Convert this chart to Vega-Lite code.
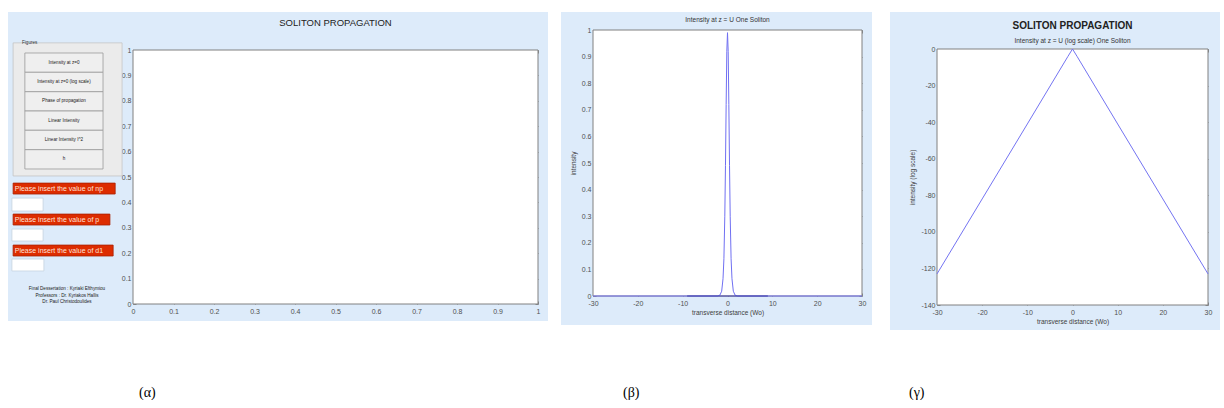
{
  "$schema": "https://vega.github.io/schema/vega-lite/v6.json",
  "padding": {"left": 8, "top": 12, "right": 0, "bottom": 0},
  "background": "white",
  "config": {
    "font": "Liberation Sans",
    "view": {"stroke": null},
    "axis": {"grid": false, "domain": false, "tickSize": -3, "tickColor": "#707070", "tickWidth": 0.8, "labelFontSize": 7, "labelColor": "#505050", "labelPadding": 5, "labelFlush": false, "labelOverlap": false, "titleFontSize": 6.5, "titleFontWeight": "normal", "titleColor": "#404040", "zindex": 1},
    "title": {"fontWeight": "normal", "color": "#222222"}
  },
  "datasets": {
    "frame": [{"panel": "plot"}],
    "beta": [
      {"x": -30, "intensity": 0},
      {"x": -2.2, "intensity": 0},
      {"x": -1.7, "intensity": 0.003},
      {"x": -1.3, "intensity": 0.018},
      {"x": -1.0, "intensity": 0.065},
      {"x": -0.8, "intensity": 0.14},
      {"x": -0.6, "intensity": 0.3},
      {"x": -0.45, "intensity": 0.49},
      {"x": -0.3, "intensity": 0.72},
      {"x": -0.15, "intensity": 0.92},
      {"x": 0, "intensity": 0.99},
      {"x": 0.15, "intensity": 0.92},
      {"x": 0.3, "intensity": 0.72},
      {"x": 0.45, "intensity": 0.49},
      {"x": 0.6, "intensity": 0.3},
      {"x": 0.8, "intensity": 0.14},
      {"x": 1.0, "intensity": 0.065},
      {"x": 1.3, "intensity": 0.018},
      {"x": 1.7, "intensity": 0.003},
      {"x": 2.2, "intensity": 0},
      {"x": 30, "intensity": 0}
    ],
    "beta_core": [
      {"x": -9, "intensity": 0},
      {"x": 9, "intensity": 0}
    ],
    "gamma": [
      {"x": -30, "db": -123},
      {"x": -20, "db": -82},
      {"x": -10, "db": -41},
      {"x": -1, "db": -4},
      {"x": 0, "db": 0},
      {"x": 1, "db": -4},
      {"x": 10, "db": -41},
      {"x": 20, "db": -82},
      {"x": 30, "db": -123}
    ],
    "widgets": [
      {"kind": "group", "x0": -0.296, "x1": -0.027, "y0": 0.504, "y1": 1.028},
      {"kind": "button", "x0": -0.267, "x1": -0.074, "y0": 0.9122, "y1": 0.9882},
      {"kind": "button", "x0": -0.267, "x1": -0.074, "y0": 0.8358, "y1": 0.9122},
      {"kind": "button", "x0": -0.267, "x1": -0.074, "y0": 0.7598, "y1": 0.8358},
      {"kind": "button", "x0": -0.267, "x1": -0.074, "y0": 0.6839, "y1": 0.7598},
      {"kind": "button", "x0": -0.267, "x1": -0.074, "y0": 0.6075, "y1": 0.6839},
      {"kind": "button", "x0": -0.267, "x1": -0.074, "y0": 0.5315, "y1": 0.6075},
      {"kind": "prompt", "x0": -0.296, "x1": -0.044, "y0": 0.433, "y1": 0.476},
      {"kind": "box", "x0": -0.299, "x1": -0.222, "y0": 0.366, "y1": 0.417},
      {"kind": "prompt", "x0": -0.296, "x1": -0.057, "y0": 0.311, "y1": 0.354},
      {"kind": "box", "x0": -0.299, "x1": -0.222, "y0": 0.248, "y1": 0.295},
      {"kind": "prompt", "x0": -0.296, "x1": -0.049, "y0": 0.189, "y1": 0.232},
      {"kind": "box", "x0": -0.299, "x1": -0.220, "y0": 0.130, "y1": 0.177}
    ],
    "texts_left": [
      {"kind": "figures", "text": "Figures", "x": -0.274, "y": 1.028},
      {"kind": "prompt", "text": "Please insert the value of np", "x": -0.292, "y": 0.4545},
      {"kind": "prompt", "text": "Please insert the value of p", "x": -0.292, "y": 0.3325},
      {"kind": "prompt", "text": "Please insert the value of d1", "x": -0.292, "y": 0.2105}
    ],
    "texts_center": [
      {"kind": "button", "text": "Intensity at z=0", "x": -0.1705, "y": 0.9502},
      {"kind": "button", "text": "Intensity at z=0 (log scale)", "x": -0.1705, "y": 0.874},
      {"kind": "button", "text": "Phase of propagation", "x": -0.1705, "y": 0.7978},
      {"kind": "button", "text": "Linear Intensity", "x": -0.1705, "y": 0.7219},
      {"kind": "button", "text": "Linear Intensity I^2", "x": -0.1705, "y": 0.6457},
      {"kind": "button", "text": "h", "x": -0.1705, "y": 0.5695},
      {"kind": "credit", "text": "Final Dessertation :  Kyriaki Efthymiou", "x": -0.163, "y": 0.059},
      {"kind": "credit", "text": "Professors :  Dr. Kyriakos Hallis", "x": -0.163, "y": 0.031},
      {"kind": "credit", "text": "Dr. Paul Christodoulides", "x": -0.163, "y": 0.008}
    ]
  },
  "hconcat": [
    {
      "spacing": 13,
      "hconcat": [
        {
          "title": {"text": "(α)", "orient": "bottom", "anchor": "start", "frame": "group", "dx": 131, "offset": 65, "font": "Liberation Serif", "fontSize": 14, "fontWeight": "normal", "color": "#000000"},
          "vconcat": [
            {
              "width": 540,
              "height": 309,
              "view": {"fill": "#ddebfa", "stroke": null},
              "title": {"text": "SOLITON PROPAGATION", "fontSize": 9.5, "anchor": "middle", "frame": "group", "dx": 57.5, "offset": -15},
              "resolve": {"axis": {"x": "independent", "y": "independent"}},
              "layer": [
                {
                  "data": {"name": "frame"},
                  "mark": {"type": "rect", "fill": "white", "stroke": "#808080", "strokeWidth": 1},
                  "encoding": {
                    "x": {"datum": 0, "type": "quantitative", "scale": {"domain": [0, 1], "range": [125, 530], "nice": false, "zero": false},
                      "axis": {"orient": "bottom", "offset": -17, "labelPadding": 6, "values": [0, 0.1, 0.2, 0.3, 0.4, 0.5, 0.6, 0.7, 0.8, 0.9, 1], "labelExpr": "'' + datum.value", "title": null}},
                    "x2": {"datum": 1},
                    "y": {"datum": 0, "type": "quantitative", "scale": {"domain": [0, 1], "range": [292, 38], "nice": false, "zero": false},
                      "axis": {"orient": "left", "offset": -125, "values": [0, 0.1, 0.2, 0.3, 0.4, 0.5, 0.6, 0.7, 0.8, 0.9, 1], "labelExpr": "'' + datum.value", "title": null}},
                    "y2": {"datum": 1}
                  }
                },
                {
                  "data": {"name": "widgets"},
                  "mark": {"type": "rect", "strokeWidth": 0.8},
                  "encoding": {
                    "x": {"field": "x0", "type": "quantitative", "axis": null},
                    "x2": {"field": "x1"},
                    "y": {"field": "y0", "type": "quantitative", "axis": null},
                    "y2": {"field": "y1"},
                    "fill": {"field": "kind", "type": "nominal", "legend": null, "scale": {"domain": ["group", "button", "prompt", "box"], "range": ["#ebebeb", "#efefef", "#dd2c00", "#ffffff"]}},
                    "stroke": {"field": "kind", "type": "nominal", "legend": null, "scale": {"domain": ["group", "button", "prompt", "box"], "range": ["#c4c4c4", "#9a9a9a", "#a82000", "#c6d3e0"]}}
                  }
                },
                {
                  "data": {"name": "texts_left"},
                  "mark": {"type": "text", "align": "left", "baseline": "middle"},
                  "encoding": {
                    "x": {"field": "x", "type": "quantitative", "axis": null},
                    "y": {"field": "y", "type": "quantitative", "axis": null},
                    "text": {"field": "text"},
                    "size": {"field": "kind", "type": "nominal", "legend": null, "scale": {"domain": ["figures", "prompt"], "range": [4.6, 7]}},
                    "color": {"field": "kind", "type": "nominal", "legend": null, "scale": {"domain": ["figures", "prompt"], "range": ["#333333", "#ffe2d8"]}}
                  }
                },
                {
                  "data": {"name": "texts_center"},
                  "mark": {"type": "text", "align": "center", "baseline": "middle", "fontSize": 4.6, "color": "#222222"},
                  "encoding": {
                    "x": {"field": "x", "type": "quantitative", "axis": null},
                    "y": {"field": "y", "type": "quantitative", "axis": null},
                    "text": {"field": "text"}
                  }
                },
                {
                  "data": {"name": "frame"},
                  "mark": {"type": "rect", "opacity": 0},
                  "encoding": {
                    "x": {"datum": 0, "type": "quantitative",
                      "axis": {"orient": "top", "offset": -38, "values": [0, 0.1, 0.2, 0.3, 0.4, 0.5, 0.6, 0.7, 0.8, 0.9, 1], "labels": false, "title": null}},
                    "x2": {"datum": 1},
                    "y": {"datum": 0, "type": "quantitative",
                      "axis": {"orient": "right", "offset": -10, "values": [0, 0.1, 0.2, 0.3, 0.4, 0.5, 0.6, 0.7, 0.8, 0.9, 1], "labels": false, "title": null}},
                    "y2": {"datum": 1}
                  }
                }
              ]
            }
          ]
        },
        {
          "title": {"text": "(β)", "orient": "bottom", "anchor": "start", "frame": "group", "dx": 62, "offset": 61, "font": "Liberation Serif", "fontSize": 14, "fontWeight": "normal", "color": "#000000"},
          "vconcat": [
            {
              "width": 311,
              "height": 313,
              "view": {"fill": "#ddebfa", "stroke": null},
              "title": {"text": "Intensity at z = U One Soliton", "fontSize": 6.5, "color": "#333333", "anchor": "middle", "frame": "group", "dx": 11, "offset": -11},
              "resolve": {"axis": {"x": "independent", "y": "independent"}},
              "layer": [
                {
                  "data": {"name": "frame"},
                  "mark": {"type": "rect", "fill": "white", "stroke": "#808080", "strokeWidth": 1},
                  "encoding": {
                    "x": {"datum": -30, "type": "quantitative", "scale": {"domain": [-30, 30], "range": [32, 301], "nice": false, "zero": false},
                      "axis": {"orient": "bottom", "offset": -29, "labelPadding": 6, "values": [-30, -20, -10, 0, 10, 20, 30], "labelExpr": "'' + datum.value", "title": "transverse distance (Wo)", "titlePadding": 3}},
                    "x2": {"datum": 30},
                    "y": {"datum": 0, "type": "quantitative", "scale": {"domain": [0, 1], "range": [284, 18], "nice": false, "zero": false},
                      "axis": {"orient": "left", "offset": -32, "values": [0, 0.1, 0.2, 0.3, 0.4, 0.5, 0.6, 0.7, 0.8, 0.9, 1], "labelExpr": "'' + datum.value", "title": "intensity", "titlePadding": 5}},
                    "y2": {"datum": 1}
                  }
                },
                {
                  "data": {"name": "beta"},
                  "mark": {"type": "line", "strokeWidth": 1, "color": "#7070f2"},
                  "encoding": {
                    "x": {"field": "x", "type": "quantitative", "axis": null},
                    "y": {"field": "intensity", "type": "quantitative", "axis": null}
                  }
                },
                {
                  "data": {"name": "beta_core"},
                  "mark": {"type": "line", "strokeWidth": 1.2, "color": "#3c3cae"},
                  "encoding": {
                    "x": {"field": "x", "type": "quantitative", "axis": null},
                    "y": {"field": "intensity", "type": "quantitative", "axis": null}
                  }
                },
                {
                  "data": {"name": "frame"},
                  "mark": {"type": "rect", "opacity": 0},
                  "encoding": {
                    "x": {"datum": -30, "type": "quantitative",
                      "axis": {"orient": "top", "offset": -18, "values": [-30, -20, -10, 0, 10, 20, 30], "labels": false, "title": null}},
                    "x2": {"datum": 30},
                    "y": {"datum": 0, "type": "quantitative",
                      "axis": {"orient": "right", "offset": -10, "values": [0, 0.1, 0.2, 0.3, 0.4, 0.5, 0.6, 0.7, 0.8, 0.9, 1], "labels": false, "title": null}},
                    "y2": {"datum": 1}
                  }
                }
              ]
            }
          ]
        }
      ]
    },
    {
      "title": {"text": "(γ)", "orient": "bottom", "anchor": "start", "frame": "group", "dx": 19, "offset": 56, "font": "Liberation Serif", "fontSize": 14, "fontWeight": "normal", "color": "#000000"},
      "vconcat": [
        {
          "width": 330,
          "height": 318,
          "view": {"fill": "#ddebfa", "stroke": null},
          "title": {"text": "SOLITON PROPAGATION", "subtitle": "Intensity at z = U (log scale) One Soliton", "fontSize": 10, "fontWeight": "bold", "color": "#222222", "subtitleFontSize": 6.5, "subtitleColor": "#333333", "subtitlePadding": 7, "anchor": "middle", "frame": "group", "dx": 17.5, "offset": -32},
          "resolve": {"axis": {"x": "independent", "y": "independent"}},
          "layer": [
            {
              "data": {"name": "frame"},
              "mark": {"type": "rect", "fill": "white", "stroke": "#808080", "strokeWidth": 1},
              "encoding": {
                "x": {"datum": -30, "type": "quantitative", "scale": {"domain": [-30, 30], "range": [47, 318], "nice": false, "zero": false},
                  "axis": {"orient": "bottom", "offset": -25, "labelPadding": 6, "values": [-30, -20, -10, 0, 10, 20, 30], "labelExpr": "'' + datum.value", "title": "transverse distance (Wo)", "titlePadding": 3}},
                "x2": {"datum": 30},
                "y": {"datum": -140, "type": "quantitative", "scale": {"domain": [-140, 0], "range": [293, 37], "nice": false, "zero": false},
                  "axis": {"orient": "left", "offset": -47, "values": [-140, -120, -100, -80, -60, -40, -20, 0], "labelExpr": "'' + datum.value", "title": "intensity (log scale)", "titlePadding": 5}},
                "y2": {"datum": 0}
              }
            },
            {
              "data": {"name": "gamma"},
              "mark": {"type": "line", "strokeWidth": 1, "color": "#7474f2"},
              "encoding": {
                "x": {"field": "x", "type": "quantitative", "axis": null},
                "y": {"field": "db", "type": "quantitative", "axis": null}
              }
            },
            {
              "data": {"name": "frame"},
              "mark": {"type": "rect", "opacity": 0},
              "encoding": {
                "x": {"datum": -30, "type": "quantitative",
                  "axis": {"orient": "top", "offset": -37, "values": [-30, -20, -10, 0, 10, 20, 30], "labels": false, "title": null}},
                "x2": {"datum": 30},
                "y": {"datum": -140, "type": "quantitative",
                  "axis": {"orient": "right", "offset": -12, "values": [-140, -120, -100, -80, -60, -40, -20, 0], "labels": false, "title": null}},
                "y2": {"datum": 0}
              }
            }
          ]
        }
      ]
    }
  ],
  "spacing": 18
}
